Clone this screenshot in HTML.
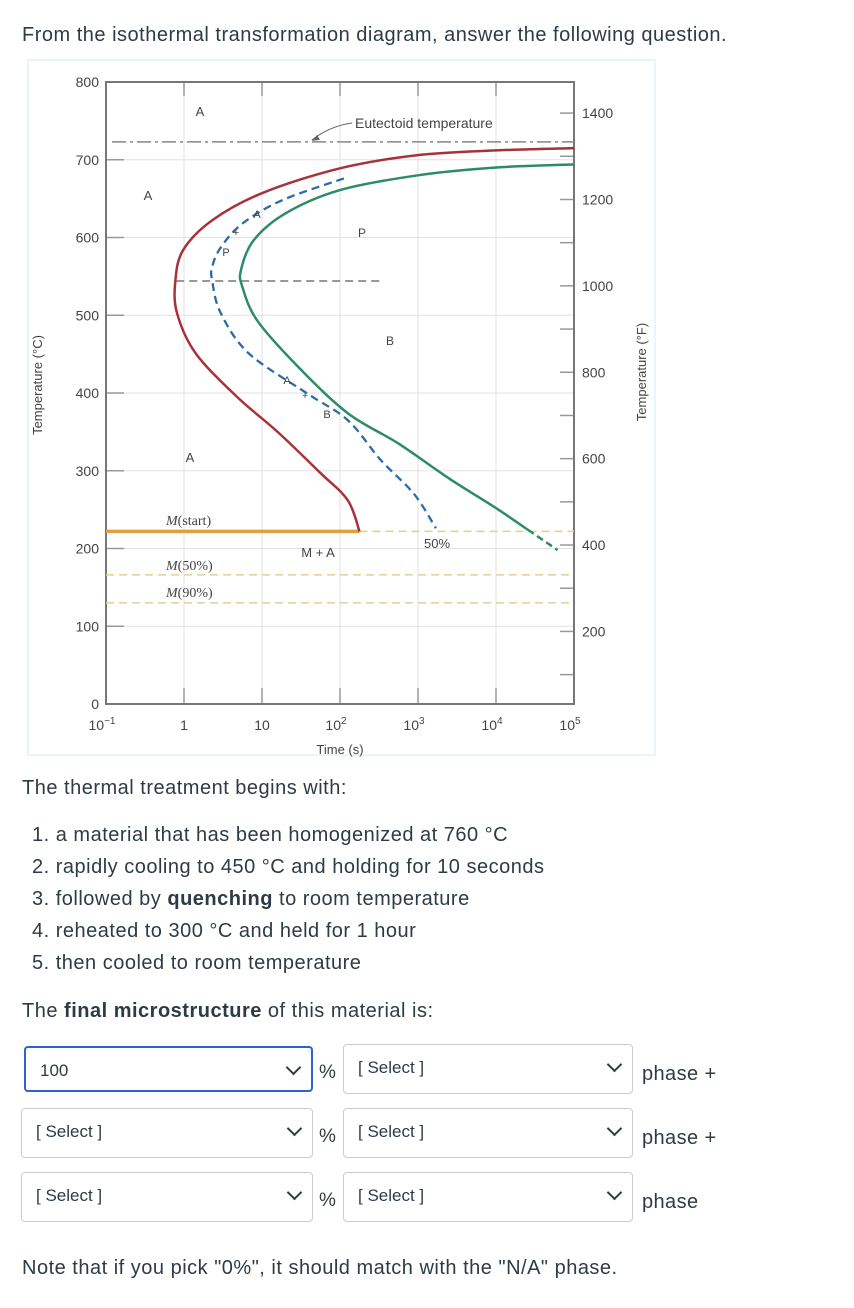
<!DOCTYPE html>
<html><head><meta charset="utf-8">
<style>
body{margin:0;width:854px;height:1308px;background:#fff;font-family:"Liberation Sans",sans-serif;color:#2d3b45;position:relative;overflow:hidden}
.t{position:absolute;left:22px;font-size:20px;letter-spacing:0.5px;white-space:nowrap;line-height:22px}
.box{position:absolute;height:48px;border:1px solid #c7cdd1;border-radius:4px;box-sizing:border-box;background:#fff;font-size:17px;color:#2d3b45}
.box span{position:absolute;left:14px;top:13px}
.box i{position:absolute;right:12px;top:14px;width:9px;height:9px;border-right:2px solid #2d3b45;border-bottom:2px solid #2d3b45;transform:rotate(45deg)}
.pct{position:absolute;left:319px;font-size:19px}
.ph{position:absolute;left:642px;font-size:20px;letter-spacing:0.4px}
</style></head><body>
<div class="t" style="top:24px">From the isothermal transformation diagram, answer the following question.</div>
<svg id="chart" style="position:absolute;left:0;top:0" width="854" height="770" font-family="Liberation Sans, sans-serif"></svg>
<div class="t" style="top:777px">The thermal treatment begins with:</div>
<div class="t" style="top:824px;left:32px">1. a material that has been homogenized at 760 °C</div>
<div class="t" style="top:856px;left:32px">2. rapidly cooling to 450 °C and holding for 10 seconds</div>
<div class="t" style="top:888px;left:32px">3. followed by <b>quenching</b> to room temperature</div>
<div class="t" style="top:920px;left:32px">4. reheated to 300 °C and held for 1 hour</div>
<div class="t" style="top:952px;left:32px">5. then cooled to room temperature</div>
<div class="t" style="top:1000px">The <b>final microstructure</b> of this material is:</div>

<div class="box" style="left:24px;top:1046px;width:289px;height:46px;border:2px solid #2b63d0"><span>100</span><i></i></div>
<div class="pct" style="top:1062px">%</div>
<div class="box" style="left:343px;top:1044px;width:290px;height:50px"><span>[ Select ]</span><i></i></div>
<div class="ph" style="top:1063px">phase +</div>

<div class="box" style="left:21px;top:1108px;width:292px;height:50px"><span>[ Select ]</span><i></i></div>
<div class="pct" style="top:1126px">%</div>
<div class="box" style="left:343px;top:1108px;width:290px;height:50px"><span>[ Select ]</span><i></i></div>
<div class="ph" style="top:1127px">phase +</div>

<div class="box" style="left:21px;top:1172px;width:292px;height:50px"><span>[ Select ]</span><i></i></div>
<div class="pct" style="top:1190px">%</div>
<div class="box" style="left:343px;top:1172px;width:290px;height:50px"><span>[ Select ]</span><i></i></div>
<div class="ph" style="top:1191px">phase</div>

<div class="t" style="top:1257px">Note that if you pick "0%", it should match with the "N/A" phase.</div>

<script>
const decadeLabels=["10","1","10","10","10","10","10"];
const decadeSups=["−1","","","2","3","4","5"];
const celsiusTicks=[0,100,200,300,400,500,600,700,800];
const fahrenheitTicks=[200,400,600,800,1000,1200,1400];
const startLogT=[5.0,4.0,3.0,2.0,1.0,0.36,-0.01,-0.11,-0.09,0.15,0.68,1.2,1.75,2.1,2.25];
const startT=[715,712,706,689,657,622,584,545,503,451,395,350,297,262,222];
const finishLogT=[5.0,4.0,3.0,2.0,1.3,0.89,0.73,0.75,0.94,1.47,2.1,2.75,3.4,4.0,4.41];
const finishT=[694,690,680,661,631,596,558,536,493,433,374,335,290,252,224];
const finishDashLogT=[4.41,4.79];
const finishDashT=[224,198];
const halfLogT=[2.05,1.26,0.75,0.47,0.36,0.36,0.47,0.83,1.57,2.1,2.52,2.95,3.23];
const halfT=[676,648,618,587,562,545,503,451,400,365,314,270,226];
const eutectoidT=[723];
const msT=[222],m50T=[166],m90T=[130];
const bainiteNoseT=[544];

const svg=document.getElementById('chart');
const NS='http://www.w3.org/2000/svg';
const X0=106,DEC=78,Y0=704,K=0.7775;
const xs=l=>X0+(l+1)*DEC;
const ys=T=>Y0-T*K;
function el(tag,attrs,txt){const e=document.createElementNS(NS,tag);for(const k in attrs)e.setAttribute(k,attrs[k]);if(txt!==undefined)e.textContent=txt;svg.appendChild(e);return e;}
function smooth(xsA,ysA){const p=xsA.map((x,i)=>[xs(x),ys(ysA[i])]);let d='M'+p[0][0]+','+p[0][1];for(let i=0;i<p.length-1;i++){const a=p[i-1]||p[i],b=p[i],c=p[i+1],e=p[i+2]||c;d+=` C${b[0]+(c[0]-a[0])/6},${b[1]+(c[1]-a[1])/6} ${c[0]-(e[0]-b[0])/6},${c[1]-(e[1]-b[1])/6} ${c[0]},${c[1]}`;}return d;}

let r=el('rect',{x:28,y:60,width:627,height:695,fill:'none',stroke:'#dbe8f3','stroke-width':1});

for(let i=0;i<decadeLabels.length;i++){const x=xs(i-1);
 let g=el('line',{x1:x,y1:ys(800),x2:x,y2:ys(0),stroke:'#e2e2e2','stroke-width':1});
 
 el('line',{x1:x,y1:ys(800),x2:x,y2:ys(800)+14,stroke:'#999','stroke-width':1.5});
 el('line',{x1:x,y1:ys(0),x2:x,y2:ys(0)-16,stroke:'#999','stroke-width':1.5});
 const t=el('text',{x:x-(decadeSups[i]?4:0),y:730,'font-size':14,fill:'#444','text-anchor':'middle'});
 t.textContent=decadeLabels[i];
 
 if(decadeSups[i]){const s=document.createElementNS(NS,'tspan');s.setAttribute('font-size',10);s.setAttribute('dy',-6);s.textContent=decadeSups[i];t.appendChild(s);}
}
celsiusTicks.forEach(T=>{const y=ys(T);
 let g=el('line',{x1:X0,y1:y,x2:xs(5),y2:y,stroke:'#e2e2e2','stroke-width':1});
 
 el('line',{x1:X0,y1:y,x2:X0+18,y2:y,stroke:'#999','stroke-width':1.5});
 const t=el('text',{x:99,y:y+5,'font-size':14,fill:'#444','text-anchor':'end'},String(T));
 
});
for(let F=100;F<=1400;F+=100){const y=ys((F-32)/1.8);el('line',{x1:xs(5)-14,y1:y,x2:xs(5),y2:y,stroke:'#999','stroke-width':1.5});}
fahrenheitTicks.forEach(F=>{const y=ys((F-32)/1.8);
 const t=el('text',{x:xs(5)+8,y:y+5,'font-size':14,fill:'#444'},String(F));
 });
let ax=el('rect',{x:X0,y:ys(800),width:xs(5)-X0,height:ys(0)-ys(800),fill:'none',stroke:'#777','stroke-width':2});

let eu=el('line',{x1:X0+6,y1:ys(eutectoidT[0]),x2:xs(5),y2:ys(eutectoidT[0]),stroke:'#888','stroke-width':1.5,'stroke-dasharray':'14,4,3,4'});

el('path',{d:`M352,123 Q330,126 312,${ys(eutectoidT[0])-2}`,fill:'none',stroke:'#666','stroke-width':1});
el('path',{d:`M312,${ys(eutectoidT[0])-1} l8,-1 l-3,-5z`,fill:'#666'});
let ms=el('line',{x1:X0,y1:ys(msT[0]),x2:xs(startLogT[startLogT.length-1]),y2:ys(msT[0]),stroke:'#e0a040','stroke-width':3.5});

el('line',{x1:xs(startLogT[startLogT.length-1]),y1:ys(msT[0]),x2:xs(5),y2:ys(msT[0]),stroke:'#e8cf80','stroke-width':1.5,'stroke-dasharray':'8,5'});
[[m50T,'m50-line'],[m90T,'m90-line']].forEach(([a,n])=>{const l=el('line',{x1:X0,y1:ys(a[0]),x2:xs(5),y2:ys(a[0]),stroke:'#e8cf90','stroke-width':1.5,'stroke-dasharray':'8,5'});});
let bn=el('line',{x1:xs(-0.1),y1:ys(bainiteNoseT[0]),x2:xs(2.55),y2:ys(bainiteNoseT[0]),stroke:'#777','stroke-width':1.5,'stroke-dasharray':'8,5'});

let c1=el('path',{d:smooth(startLogT,startT),fill:'none',stroke:'#a8323a','stroke-width':2.5});

let c2=el('path',{d:smooth(finishLogT,finishT),fill:'none',stroke:'#2e8b67','stroke-width':2.5});

let c2b=el('path',{d:smooth(finishDashLogT,finishDashT),fill:'none',stroke:'#2e8b67','stroke-width':2.5,'stroke-dasharray':'7,4'});

let c3=el('path',{d:smooth(halfLogT,halfT),fill:'none',stroke:'#2d6aa8','stroke-width':2.3,'stroke-dasharray':'8,5'});

const labs=[[200,116,'A',13],[148,200,'A',13],[362,237,'P',12],[390,345,'B',12],[190,462,'A',13],[355,128,'Eutectoid temperature',14],[318,557,'M + A',13],[437,548,'50%',13],[226,256,'P',11],[236,236,'+',11],[257,218,'A',11],[287,384,'A',11],[305,399,'+',10],[327,418,'B',11]];
labs.forEach(([x,y,s,f])=>{const t=el('text',{x:x,y:y,'font-size':f,fill:'#444','text-anchor':s.length>5?'start':'middle'},s);});
[[166,525,'start'],[166,570,'50%'],[166,597,'90%']].forEach(([x,y,s])=>{const t=el('text',{x:x,y:y,'font-size':14,fill:'#444','font-family':'Liberation Serif, serif'});const a=document.createElementNS(NS,'tspan');a.setAttribute('font-style','italic');a.textContent='M';t.appendChild(a);const b=document.createElementNS(NS,'tspan');b.textContent='('+s+')';t.appendChild(b);});
let xt=el('text',{x:xs(2),y:754,'font-size':13,fill:'#444','text-anchor':'middle'},'Time (s)');
let yt=el('text',{x:0,y:0,'font-size':13,fill:'#444','text-anchor':'middle',transform:'translate(42,385) rotate(-90)'},'Temperature (°C)');
let yt2=el('text',{x:0,y:0,'font-size':13,fill:'#444','text-anchor':'middle',transform:'translate(646,372) rotate(-90)'},'Temperature (°F)');
</script>
</body></html>
